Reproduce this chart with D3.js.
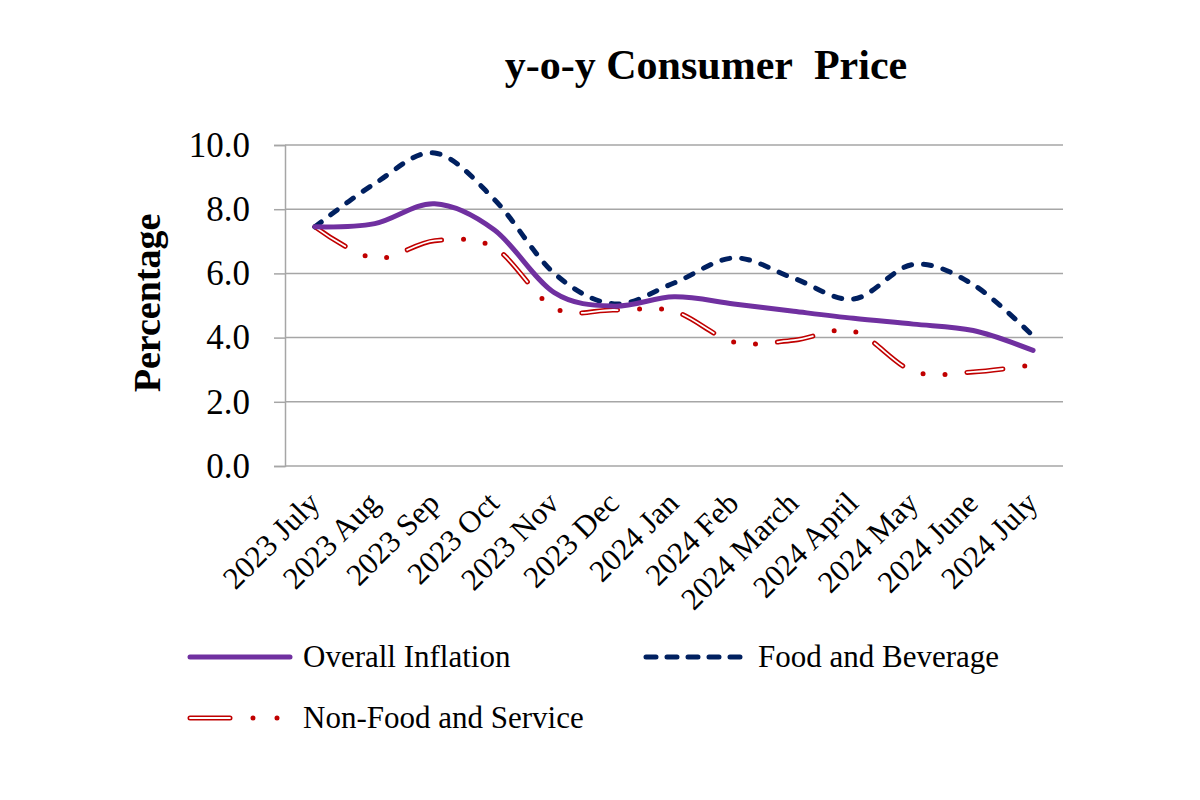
<!DOCTYPE html>
<html>
<head>
<meta charset="utf-8">
<script src="https://cdn.jsdelivr.net/npm/d3@7"></script>
<style>
  html, body { margin: 0; padding: 0; background: #fff; }
  svg { display: block; font-family: "Liberation Serif", "Times New Roman", serif; }
</style>
</head>
<body>
<svg id="chart" width="1200" height="800"></svg>
<script>
const categories = ["2023 July", "2023 Aug", "2023 Sep", "2023 Oct", "2023 Nov", "2023 Dec",
  "2024 Jan", "2024 Feb", "2024 March", "2024 April", "2024 May", "2024 June", "2024 July"];
const overallInflation = [7.45, 7.55, 8.17, 7.35, 5.4, 4.98, 5.27, 5.05, 4.82, 4.6, 4.42, 4.22, 3.6];
const foodAndBeverage = [7.45, 8.8, 9.75, 8.3, 6.0, 5.05, 5.7, 6.48, 5.85, 5.2, 6.28, 5.65, 4.05];
const nonFoodAndService = [7.45, 6.47, 7.02, 6.8, 4.92, 4.86, 4.82, 3.86, 3.92, 4.2, 2.95, 2.93, 3.15];
const yTicks = [0, 2, 4, 6, 8, 10];
const title = "y-o-y Consumer\u00a0\u00a0Price";
const yLabel = "Percentage";
const seriesNames = ["Overall Inflation", "Food and Beverage", "Non-Food and Service"];

const svg = d3.select("#chart");
const pLeft = 285, pRight = 1063, pTop = 145, pBottom = 466;

const x = d3.scalePoint().domain(categories).range([pLeft, pRight]).padding(0.5);
const y = d3.scaleLinear().domain([0, 10]).range([pBottom, pTop]);

const grid = "#A6A6A6";

// gridlines
svg.append("g").selectAll("line").data(yTicks.filter(d => d > 0)).join("line")
  .attr("x1", pLeft).attr("x2", pRight)
  .attr("y1", d => y(d)).attr("y2", d => y(d))
  .attr("stroke", grid).attr("stroke-width", 1.5);

// y axis
const yAxis = svg.append("g").attr("transform", `translate(${pLeft},0)`)
  .call(d3.axisLeft(y).tickValues(yTicks).tickFormat(d3.format(".1f")).tickSize(11).tickPadding(24));
yAxis.select(".domain").attr("stroke", grid).attr("stroke-width", 1.5);
yAxis.selectAll(".tick line").attr("stroke", grid).attr("stroke-width", 1.5);
yAxis.selectAll(".tick text").attr("font-size", 35).attr("fill", "#000")
  .attr("font-family", "Liberation Serif");

// x axis
const xAxis = svg.append("g").attr("transform", `translate(0,${pBottom})`)
  .call(d3.axisBottom(x).tickSize(0).tickPadding(0));
xAxis.select(".domain").attr("stroke", grid).attr("stroke-width", 1.5)
  .attr("d", `M${pLeft},0H${pRight}`);
xAxis.selectAll(".tick text")
  .attr("font-size", 31).attr("fill", "#000").attr("font-family", "Liberation Serif")
  .attr("text-anchor", "end").attr("dy", 0)
  .attr("transform", "translate(6,39) rotate(-45)");

// lines
const line = (vals) => d3.line()
  .x((d, i) => x(categories[i]))
  .y(d => y(d))
  .curve(d3.curveCardinal.tension(0))(vals);

// Non-food (drawn first)
svg.append("path").attr("d", line(nonFoodAndService))
  .attr("fill", "none").attr("stroke", "#C00000").attr("stroke-width", 5)
  .attr("stroke-linecap", "round").attr("stroke-dasharray", "36 22 0 22 0 22");
svg.append("path").attr("d", line(nonFoodAndService))
  .attr("fill", "none").attr("stroke", "#fff").attr("stroke-width", 1.8)
  .attr("stroke-linecap", "round").attr("stroke-dasharray", "36 66");

svg.append("path").attr("d", line(foodAndBeverage))
  .attr("fill", "none").attr("stroke", "#002060").attr("stroke-width", 5)
  .attr("stroke-linecap", "round").attr("stroke-dasharray", "8 12");

svg.append("path").attr("d", line(overallInflation))
  .attr("fill", "none").attr("stroke", "#7030A0").attr("stroke-width", 5)
  .attr("stroke-linecap", "round");

// title
svg.append("text").attr("x", 706).attr("y", 79).attr("text-anchor", "middle")
  .attr("font-size", 42).attr("font-weight", "bold").text(title);

// y label
svg.append("text").attr("transform", "translate(160,303) rotate(-90)")
  .attr("text-anchor", "middle").attr("font-size", 38).attr("font-weight", "bold").text(yLabel);

// legend
const lg = svg.append("g");
lg.append("line").attr("x1", 190).attr("x2", 290).attr("y1", 657).attr("y2", 657)
  .attr("stroke", "#7030A0").attr("stroke-width", 5).attr("stroke-linecap", "round");
lg.append("text").attr("x", 303).attr("y", 667).attr("font-size", 31).text(seriesNames[0]);
lg.append("line").attr("x1", 646).attr("x2", 746).attr("y1", 657).attr("y2", 657)
  .attr("stroke", "#002060").attr("stroke-width", 5).attr("stroke-linecap", "round")
  .attr("stroke-dasharray", "10 11");
lg.append("text").attr("x", 758).attr("y", 667).attr("font-size", 31).text(seriesNames[1]);
lg.append("line").attr("x1", 190).attr("x2", 280).attr("y1", 718).attr("y2", 718)
  .attr("stroke", "#C00000").attr("stroke-width", 5).attr("stroke-linecap", "round")
  .attr("stroke-dasharray", "40 23 0 24 0 30");
lg.append("line").attr("x1", 190).attr("x2", 230).attr("y1", 718).attr("y2", 718)
  .attr("stroke", "#fff").attr("stroke-width", 1.8).attr("stroke-linecap", "round");
lg.append("text").attr("x", 303).attr("y", 728).attr("font-size", 31).text(seriesNames[2]);
</script>
</body>
</html>
